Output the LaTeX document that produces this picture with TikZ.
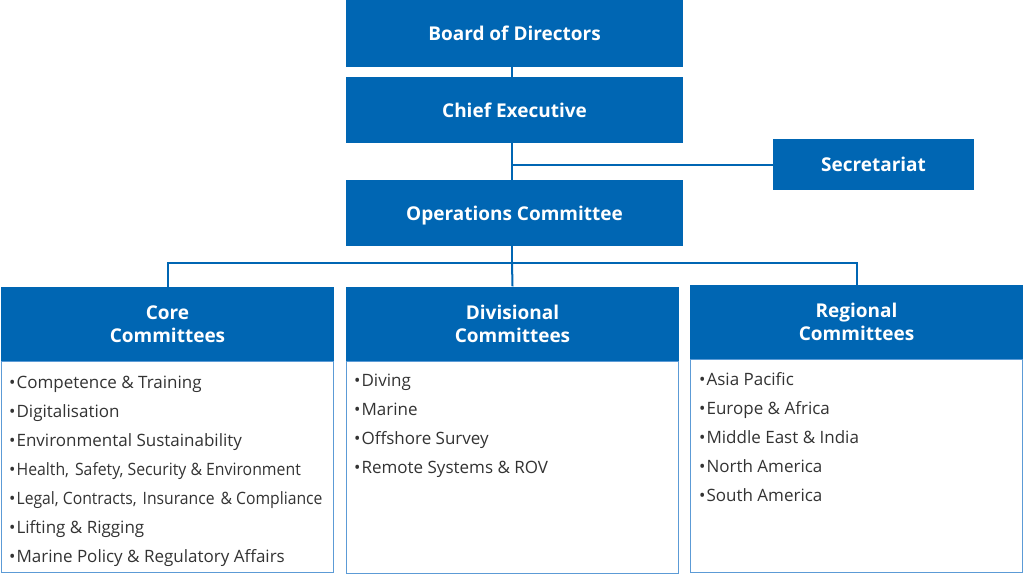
\documentclass[tikz,border=0pt]{standalone}
\usepackage{fontspec}
\setmainfont{Open Sans}
\definecolor{iblue}{HTML}{0066B3}
\definecolor{lblue}{HTML}{5C9BD6}
\definecolor{itext}{HTML}{333333}
\begin{document}
\begin{tikzpicture}[x=1pt,y=-1pt,
  topbox/.style={fill=iblue, draw=none, text=white, font=\fontsize{19}{22}\selectfont\bfseries, inner sep=0pt},
  headbox/.style={fill=iblue, draw=none, text=white, font=\fontsize{19}{23}\selectfont\bfseries, align=center, inner sep=0pt, minimum width=333, minimum height=74},
  bodybox/.style={draw=lblue, line width=1.2pt, fill=white, inner sep=0pt, minimum width=332, anchor=north},
  item/.style={anchor=base west, text=itext, font=\fontsize{17}{20}\selectfont, inner sep=0pt},
  conn/.style={draw=iblue, line width=2pt}]
\useasboundingbox (0,0) rectangle (1024,576);
\fill[white] (0,0) rectangle (1024,576);
% top chain
\node[topbox, minimum width=337, minimum height=67] (board) at (514.5,33.5) {Board of Directors};
\node[topbox, minimum width=337, minimum height=66] (chief) at (514.5,110) {Chief Executive};
\node[topbox, minimum width=337, minimum height=66, text depth=0pt] (ops) at (514.5,213) {Operations Committee};
\node[topbox, minimum width=201, minimum height=51] (sec) at (873.5,164.5) {Secretariat};
\draw[conn] (512,67) -- (512,77);
\draw[conn] (512,143) -- (512,180);
\draw[conn] (sec.west) -- (sec.west -| 512,0);
% headers
\node[headbox] (corehead) at (167.5,324) {Core\\Committees};
\node[headbox] (divhead) at (512.5,323.5) {Divisional\\Committees};
\node[headbox] (reghead) at (856.5,322) {Regional\\Committees};
\coordinate (bus) at (512,263);
\draw[conn] (512,246) -- (bus);
\draw[conn] (corehead.north) |- (bus) -| (reghead.north);
\draw[conn] (bus) -- (divhead.north);
% bodies
\node[bodybox, minimum height=211] (corebody) at (corehead.south) {};
\node[bodybox, minimum height=212] (divbody) at (divhead.south) {};
\node[bodybox, minimum height=213] (regbody) at (reghead.south) {};
% items
\foreach \t [count=\i] in {Competence \& Training, Digitalisation, Environmental Sustainability, {\scalebox{0.93}[1]{Health,\kern2pt\ Safety, Security \& Environment}}, {\scalebox{0.925}[1]{Legal, Contracts,\kern2pt\ Insurance\kern2pt\ \& Compliance}}, Lifting \& Rigging, Marine Policy \& Regulatory Affairs}
  \node[item] (core\i) at (9,{382+29*(\i-1)+6}) {\textbullet\kern1pt\t};
\foreach \t [count=\i] in {Diving, Marine, Offshore Survey, Remote Systems \& ROV}
  \node[item] (div\i) at (354,{380+29*(\i-1)+6}) {\textbullet\kern1pt\t};
\foreach \t [count=\i] in {Asia Pacific, Europe \& Africa, Middle East \& India, North America, South America}
  \node[item] (reg\i) at (699,{379+29*(\i-1)+6}) {\textbullet\kern1pt\t};
\end{tikzpicture}
\end{document}
